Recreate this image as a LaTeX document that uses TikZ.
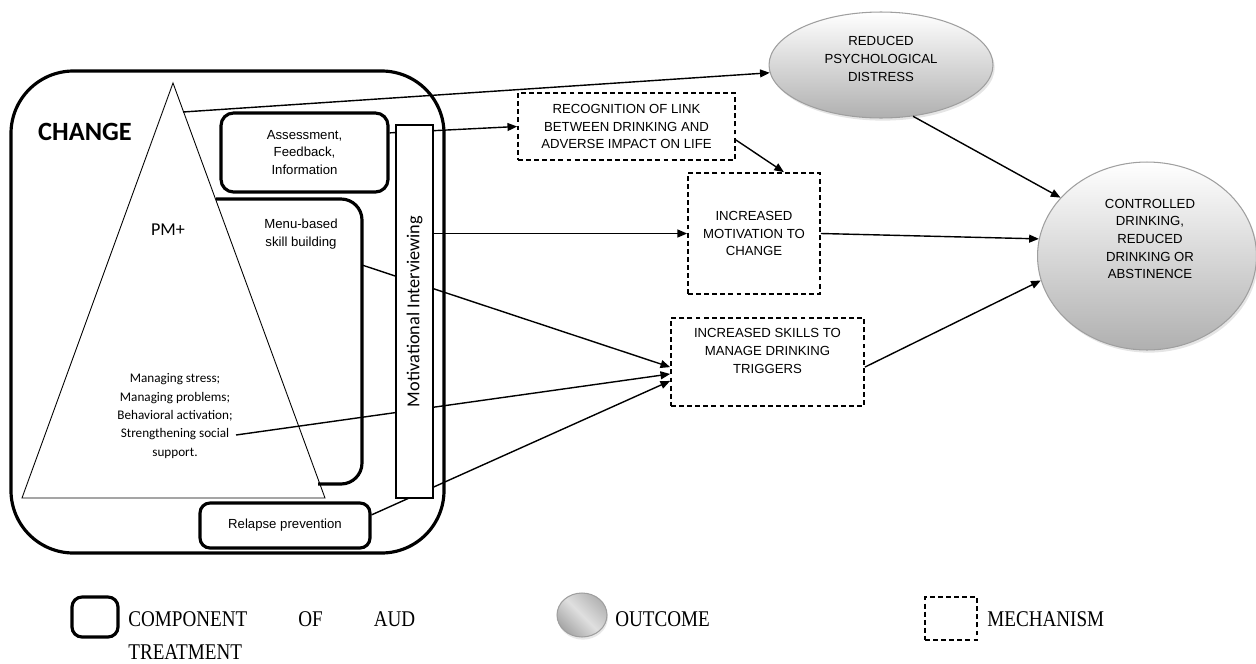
\documentclass[tikz,border=0pt]{standalone}
\usepackage{fontspec}
\setmainfont{Liberation Sans}
\newfontfamily\calibri{Carlito}
\newfontfamily\legendfont[FakeStretch=0.85]{Liberation Serif}
\usetikzlibrary{arrows.meta,shapes.geometric,shadows}

\begin{document}
\begin{tikzpicture}[x=0.02cm,y=-0.02cm,font=\fontsize{7.5}{10}\selectfont,
 component/.style={draw,line width=1.8pt,rounded corners=0.25cm,align=center},
 mechanism/.style={draw,dash pattern=on 2.8pt off 1.8pt,line width=1pt,align=center},
 outcome/.style={ellipse,draw=gray!75,line width=0.6pt,top color=white,bottom color=gray!62,
  drop shadow={shadow xshift=1pt,shadow yshift=-1.5pt,fill=gray!40}},
 link/.style={line width=0.8pt,-{Triangle[length=5.5pt,width=4.5pt]}},
 pmtext/.style={font=\calibri\fontsize{7.5}{10.5}\selectfont,align=center},
 legend/.style={font=\legendfont\fontsize{12.8}{18}\selectfont,inner sep=0pt,anchor=base west}]
\useasboundingbox (0,0) rectangle (1256,663);
\draw[line width=1.8pt,rounded corners=1.25cm] (11,71) rectangle (444,553);
\node[font=\calibri\bfseries\fontsize{15}{18}\selectfont] (change) at (85,132) {CHANGE};
\draw[line width=0.5pt] (173,83) -- (325,498) -- (22,498) -- cycle;
\coordinate (pmtip) at (183,112);
\node[font=\calibri\fontsize{10.3}{12}\selectfont] (pm) at (168,230) {PM+};
\node[pmtext] (pmlist) at (175,416) {Managing stress;\\Managing problems;\\Behavioral activation;\\Strengthening social\\support.};
\coordinate (socialend) at (236,435);
\node[component,minimum width=3.34cm,minimum height=1.58cm] (assess) at (304.5,152.5) {Assessment,\\Feedback,\\Information};
\draw[line width=1.8pt,rounded corners=0.42cm] (216,199) -- (362,199) -- (362,484) -- (318,484);
\node[align=center] (menu) at (301,234) {Menu-based\\skill building};
\coordinate (menuedge) at (362,265);
\node[component,rounded corners=0.2cm,minimum width=3.4cm,minimum height=0.9cm] (relapse) at (285,525.5) {Relapse prevention};
\node[mechanism,minimum width=4.34cm,minimum height=1.34cm] (recog) at (626.5,126.5) {RECOGNITION OF LINK\\BETWEEN DRINKING AND\\ADVERSE IMPACT ON LIFE};
\node[mechanism,minimum width=2.64cm,minimum height=2.42cm] (motiv) at (754,233.5) {INCREASED\\MOTIVATION TO\\CHANGE};
\node[mechanism,minimum width=3.86cm,minimum height=1.76cm] (skills) at (767.5,362) {};
\node[align=center] (skillstext) at (767.5,351) {INCREASED SKILLS TO\\MANAGE DRINKING\\TRIGGERS};
\node[outcome,minimum width=4.48cm,minimum height=2.12cm] (distress) at (881,65) {};
\node[align=center] (distresstext) at (881,59) {REDUCED\\PSYCHOLOGICAL\\DISTRESS};
\node[outcome,minimum width=4.38cm,minimum height=3.76cm] (drinking) at (1147,256) {};
\node[align=center] (drinkingtext) at (1150,239) {CONTROLLED\\DRINKING,\\REDUCED\\DRINKING OR\\ABSTINENCE};
\draw[link] (pmtip) -- (distress.184);
\draw[link] (assess.13) -- (recog.west);
\draw[link] (menuedge) -- (skills.183);
\draw[link] (socialend) -- (skills.187);
\draw[link] (relapse.7) -- (skills.191);
\node[draw,line width=0.7pt,fill=white,minimum width=0.74cm,minimum height=7.46cm] (mi) at (414.5,311.5) {};
\node[rotate=90,font=\calibri\fontsize{10.4}{12}\selectfont] (mitext) at (mi.center) {Motivational Interviewing};
\draw[link] (mi.east |- motiv.west) -- (motiv.west);
\draw[link] (recog.-7) -- (motiv.64);
\draw[link] (distress.-58) -- (drinking.146);
\draw[link] (motiv.east) -- (drinking.171);
\draw[link] (skills.-3) -- (drinking.193);
\node[component,rounded corners=0.2cm,minimum width=0.92cm,minimum height=0.8cm] (legcomp) at (95,617) {};
\node[legend,text width=5.74cm,align=left] (legcomptext) at (128,626) {COMPONENT\hfill OF\hfill AUD\\[1pt]TREATMENT};
\node[ellipse,draw=gray!75,line width=0.6pt,left color=gray!70,right color=gray!60,middle color=gray!25,shading angle=135,
 drop shadow={shadow xshift=0.5pt,shadow yshift=-1.5pt,fill=gray!35},minimum width=1cm,minimum height=0.88cm] (legout) at (582,615) {};
\node[legend] (legouttext) at (615,626) {OUTCOME};
\node[mechanism,minimum width=1.04cm,minimum height=0.86cm] (legmech) at (951,618.5) {};
\node[legend] (legmechtext) at (987,626) {MECHANISM};
\end{tikzpicture}
\end{document}
